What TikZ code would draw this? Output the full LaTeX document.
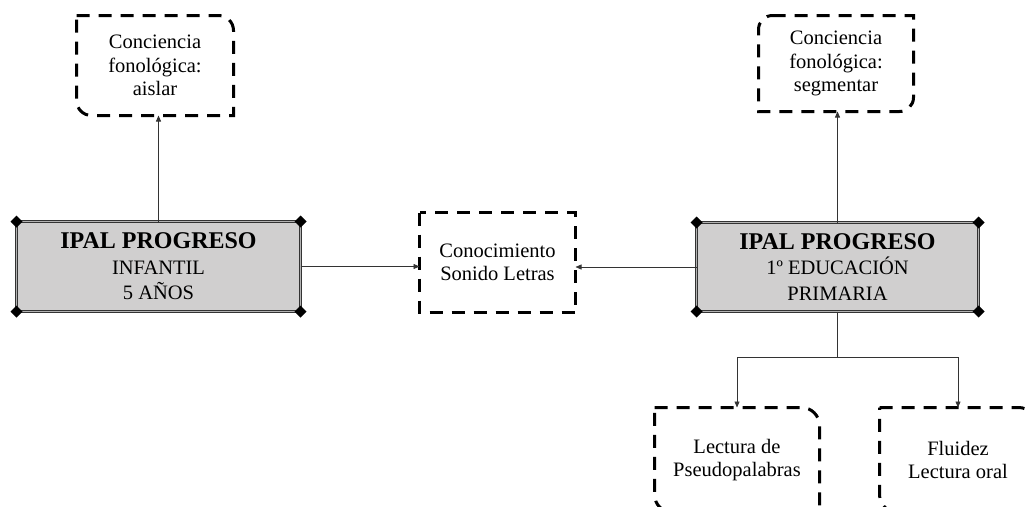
\documentclass[tikz,border=0pt]{standalone}
\usepackage{fontspec}
\setmainfont{Liberation Serif}
\usetikzlibrary{arrows.meta,calc}
\definecolor{boxfill}{RGB}{208,207,207}

\tikzset{
 mainbox/.style={rectangle, fill=boxfill, draw=black!80, double=gray!60, double distance=1.3pt, line width=1pt, inner sep=0pt, outer sep=0pt, align=center, font=\fontsize{20.5}{25.5}\selectfont},
 dashnode/.style={rectangle, inner sep=0pt, outer sep=0pt, align=center, font=\fontsize{20.5}{23.5}\selectfont},
 dashline/.style={line width=3pt, dash pattern=on 13pt off 9pt, black},
 conn/.style={line width=0.6pt, draw=black!80, -{Triangle[length=6pt,width=5pt]}},
 plainconn/.style={line width=0.6pt, draw=black!80},
}

\newcommand{\cornerdiamond}[1]{\fill[black] (#1) ++(-6pt,0pt) -- ++(6pt,6pt) -- ++(6pt,-6pt) -- ++(-6pt,-6pt) -- cycle;}
\newcommand{\diamondsof}[1]{\cornerdiamond{#1.north west}\cornerdiamond{#1.north east}\cornerdiamond{#1.south west}\cornerdiamond{#1.south east}}
\newcommand{\titleline}{{\bfseries\fontsize{24}{25.5}\selectfont IPAL PROGRESO}}

% rounded top-right and bottom-left
\newcommand{\boxNESW}[2]{%
 \draw[dashline] (#1.north west) -- ([xshift=-#2]#1.north east)
   .. controls ([xshift=-0.448*#2]#1.north east) and ([yshift=-0.448*#2]#1.north east) .. ([yshift=-#2]#1.north east)
   -- (#1.south east) -- ([xshift=#2]#1.south west)
   .. controls ([xshift=0.448*#2]#1.south west) and ([yshift=0.448*#2]#1.south west) .. ([yshift=#2]#1.south west)
   -- cycle;}
% rounded top-left and bottom-right
\newcommand{\boxNWSE}[2]{%
 \draw[dashline] ([xshift=#2]#1.north west) -- (#1.north east) -- ([yshift=#2]#1.south east)
   .. controls ([yshift=0.448*#2]#1.south east) and ([xshift=-0.448*#2]#1.south east) .. ([xshift=-#2]#1.south east)
   -- (#1.south west) -- ([yshift=-#2]#1.north west)
   .. controls ([yshift=-0.448*#2]#1.north west) and ([xshift=0.448*#2]#1.north west) .. ([xshift=#2]#1.north west)
   -- cycle;}

\begin{document}
\begin{tikzpicture}[x=1pt,y=-1pt]
\useasboundingbox (0,0) rectangle (1027,506);
\fill[white] (0,0) rectangle (1027,506);
\begin{scope}
\clip (0,0) rectangle (1027,506);

% main boxes
\node[mainbox, minimum width=284pt, minimum height=90pt] (lm) at (158.5,266.5)
  {\titleline\\INFANTIL\\5 AÑOS};
\diamondsof{lm}
\node[mainbox, minimum width=282pt, minimum height=89pt] (rm) at (837.5,267)
  {\titleline\\1º EDUCACIÓN\\PRIMARIA};
\diamondsof{rm}

% dashed boxes
\node[dashnode, minimum width=157pt, minimum height=100pt] (tl) at (155,65.5)
  {Conciencia\\fonológica:\\aislar};
\boxNESW{tl}{15pt}
\node[dashnode, minimum width=155pt, minimum height=96pt] (tr) at (836,63.5)
  {Conciencia\\fonológica:\\segmentar};
\boxNWSE{tr}{14pt}
\node[dashnode, minimum width=156pt, minimum height=100pt] (mid) at (497.5,262.5)
  {Conocimiento\\Sonido Letras};
\draw[dashline] (mid.north west) rectangle (mid.south east);
\node[dashnode, minimum width=165pt, minimum height=105pt] (bl) at (737,460)
  {Lectura de\\Pseudopalabras};
\boxNESW{bl}{18pt}
\node[dashnode, minimum width=157pt, minimum height=105pt] (br) at (958,460)
  {Fluidez\\Lectura oral};
\boxNESW{br}{18pt}

% connectors
\draw[conn] (lm.north) -- (lm.north |- tl.south);
\draw[conn] (lm.east) -- (lm.east -| mid.west);
\draw[conn] (rm.west) -- (rm.west -| mid.east);
\draw[conn] (rm.north) -- (rm.north |- tr.south);
\coordinate (split) at ($(rm.south)+(0,46)$);
\draw[plainconn] (rm.south) -- (split);
\draw[conn] (split) -| (bl.north);
\draw[conn] (split) -| (br.north);
\end{scope}
\end{tikzpicture}
\end{document}
